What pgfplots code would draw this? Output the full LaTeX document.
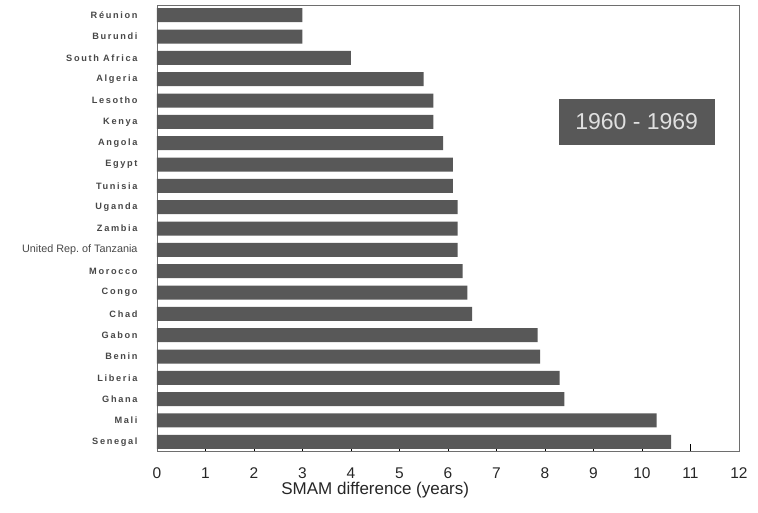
\documentclass[border=0pt]{standalone}
\usepackage{pgfplots}
\pgfplotsset{compat=1.18}
\usepackage{fontspec}
\setmainfont{Liberation Sans}
\newfontfamily\cntfont[LetterSpace=18]{Liberation Sans}
\newfontfamily\tzfont{Liberation Sans}
\definecolor{barfill}{RGB}{88,88,88}
\definecolor{framegray}{RGB}{110,110,110}

\begin{document}
\begin{tikzpicture}
\begin{axis}[
  xbar,
  scale only axis,
  width=582pt, height=446pt,
  xmin=0, xmax=12,
  ymin=-0.43, ymax=20.48,
  bar width=14pt,
  xtick={0,1,...,12},
  ytick={0,1,...,20},
  yticklabels={Senegal, Mali, Ghana, Liberia, Benin, Gabon, Chad, Congo,
    Morocco, {\tzfont\mdseries\fontsize{10.8}{12}\selectfont United Rep.\ of Tanzania},
    Zambia, Uganda, Tunisia, Egypt, Angola, Kenya, Lesotho, Algeria,
    South Africa, Burundi, Réunion},
  tick align=inside,
  xtick pos=bottom,
  ytick style={draw=none},
  major tick length=7pt,
  xtick style={black, line width=0.5pt},
  axis line style={framegray, line width=0.7pt},
  /pgf/number format/assume math mode=true,
  xticklabel style={font=\fontsize{15.5}{18}\selectfont, text=black!85, anchor=base, yshift=-28pt},
  yticklabel style={font=\cntfont\bfseries\fontsize{9.2}{10}\selectfont, text=black!72, xshift=-16pt},
  xlabel={SMAM difference (years)},
  every axis x label/.style={at={(rel axis cs:0.375,0)}, anchor=base, yshift=-44pt,
    font=\fontsize{17}{20}\selectfont, text=black!85},
  clip=false,
]
\addplot[fill=barfill, draw=none] coordinates {
  (10.6,0) (10.3,1) (8.4,2) (8.3,3) (7.9,4) (7.85,5) (6.5,6) (6.4,7)
  (6.3,8) (6.2,9) (6.2,10) (6.2,11) (6.1,12) (6.1,13) (5.9,14) (5.7,15)
  (5.7,16) (5.5,17) (4.0,18) (3.0,19) (3.0,20)
};
\node[fill=barfill, text=white!88!black, minimum width=156pt, minimum height=46pt,
  inner sep=0pt, font=\fontsize{23}{25}\selectfont] at (axis cs:9.89,15.0) {1960 - 1969};
\coordinate (O) at (rel axis cs:0,0);
\end{axis}
\pgfresetboundingbox
\path[use as bounding box] (O) ++(-157pt,-62pt) rectangle ++(758pt,513pt);
\end{tikzpicture}
\end{document}
